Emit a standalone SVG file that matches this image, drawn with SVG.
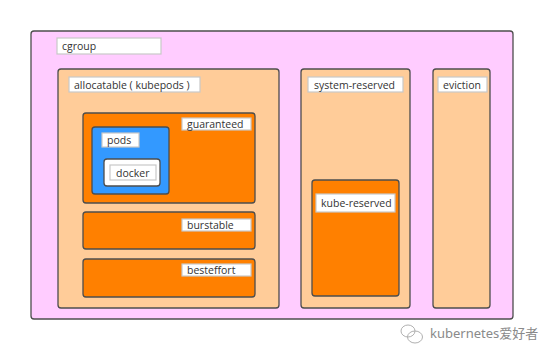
<svg xmlns="http://www.w3.org/2000/svg" width="554" height="360" viewBox="0 0 554 360">
<style>
.box{stroke:#4d4d4d;stroke-width:1.3}
.pink{fill:#ffccff}
.peach{fill:#ffcc99}
.orange{fill:#ff8000}
.blue{fill:#3399ff}
.white{fill:#ffffff}
.lbl{fill:#ffffff;stroke:#c8c8c8;stroke-width:1.2}
text{font-family:"Open Sans","Noto Sans","DejaVu Sans",sans-serif;font-size:10.5px;fill:#333333}
.wm{font-family:"Noto Sans","Noto Sans CJK SC",sans-serif;font-size:13px;fill:#8a8a8a}
</style>
<rect width="554" height="360" fill="#ffffff"/>
<g id="cgroup">
<rect class="box pink" x="31" y="31" width="482" height="288" rx="3"/>
<rect class="lbl" x="57" y="38" width="104" height="16"/>
<text x="62" y="50">cgroup</text>
</g>
<g id="allocatable">
<rect class="box peach" x="58" y="69" width="221" height="239" rx="3"/>
<rect class="lbl" x="69" y="77" width="131" height="15"/>
<text x="74" y="88.5">allocatable ( kubepods )</text>
</g>
<g id="guaranteed">
<rect class="box orange" x="83" y="113" width="172" height="90" rx="3"/>
<rect class="lbl" x="182" y="118" width="69" height="12"/>
<text x="187" y="128">guaranteed</text>
</g>
<g id="pods">
<rect class="box blue" x="92" y="127" width="77" height="67" rx="3"/>
<rect class="lbl" x="102" y="133" width="37" height="14"/>
<text x="107" y="144">pods</text>
</g>
<g id="docker">
<rect class="box white" x="104" y="159" width="56" height="27" rx="3"/>
<rect class="lbl" x="110" y="165" width="46" height="15"/>
<text x="116" y="176.5">docker</text>
</g>
<g id="burstable">
<rect class="box orange" x="83" y="212" width="172" height="37" rx="3"/>
<rect class="lbl" x="182" y="219" width="69" height="12"/>
<text x="187" y="229">burstable</text>
</g>
<g id="besteffort">
<rect class="box orange" x="83" y="259" width="172" height="38" rx="3"/>
<rect class="lbl" x="182" y="264" width="69" height="12"/>
<text x="187" y="274">besteffort</text>
</g>
<g id="system-reserved">
<rect class="box peach" x="301" y="69" width="109" height="239" rx="3"/>
<rect class="lbl" x="308" y="77" width="95" height="15"/>
<text x="314" y="88.5">system-reserved</text>
</g>
<g id="kube-reserved">
<rect class="box orange" x="312" y="180" width="87" height="116" rx="3"/>
<rect class="lbl" x="316" y="194" width="79" height="18"/>
<text x="321" y="207">kube-reserved</text>
</g>
<g id="eviction">
<rect class="box peach" x="433" y="69" width="57" height="239" rx="3"/>
<rect class="lbl" x="438" y="77" width="49" height="15"/>
<text x="443" y="88.5">eviction</text>
</g>
<g id="connectors"></g>
<g id="watermark">
<g fill="none" stroke="#b0b0b0" stroke-width="1">
<ellipse cx="408" cy="331" rx="7" ry="6"/>
<ellipse cx="415" cy="337" rx="7.5" ry="6"/>
</g>
<text class="wm" x="430" y="338">kubernetes爱好者</text>
</g>
</svg>
